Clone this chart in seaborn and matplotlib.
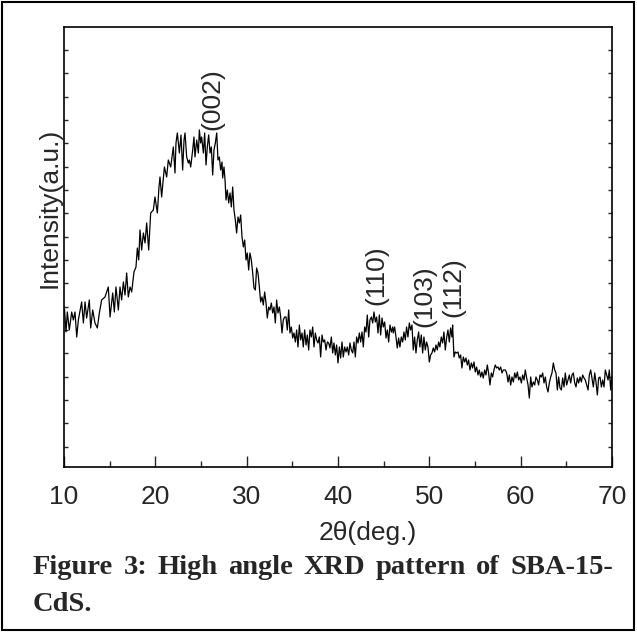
import matplotlib.pyplot as plt
import numpy as np
import pandas as pd
import seaborn as sns
from matplotlib.patches import Rectangle
from matplotlib.ticker import MultipleLocator


#================================================================================================
# Data (arbitrary intensity units)
#================================================================================================

# 10 - 22 deg : rising side of the amorphous hump
rise_2theta = [10.05, 10.22, 10.36, 10.58, 10.84, 11.02, 11.20, 11.39, 11.57, 11.93,
               12.12, 12.30, 12.48, 12.77, 12.92, 13.14, 13.39, 13.65, 13.87, 14.12,
               14.49, 14.85, 15.04, 15.33, 15.51, 15.69, 15.95, 16.13, 16.31, 16.50,
               16.68, 16.86, 17.04, 17.23, 17.41, 17.66, 17.88, 18.03, 18.18, 18.32,
               18.50, 18.69, 18.87, 19.05, 19.27, 19.49, 19.78, 19.96, 20.22, 20.40,
               20.51, 20.69, 20.99, 21.24, 21.42, 21.68, 21.97, 22.15]
rise_counts = [158, 135, 155, 137, 155, 147, 155, 130, 147, 165,
               144, 165, 149, 167, 139, 157, 144, 139, 154, 167,
               170, 180, 150, 174, 155, 180, 157, 180, 167, 185,
               172, 194, 170, 180, 175, 195, 200, 219, 207, 237,
               217, 234, 224, 244, 217, 254, 257, 270, 254, 280,
               290, 270, 300, 290, 307, 300, 320, 294]

# 22 - 34 deg : (002) maximum and falling side
top_2theta = [22.26, 22.41, 22.63, 22.81, 22.99, 23.14, 23.25, 23.43, 23.61, 23.72,
              23.87, 24.09, 24.23, 24.34, 24.53, 24.71, 24.82, 24.96, 25.07, 25.26,
              25.40, 25.55, 25.69, 25.84, 25.99, 26.13, 26.28, 26.42, 26.57, 26.72,
              26.86, 27.01, 27.15, 27.30, 27.37, 27.52, 27.63, 27.74, 27.88, 28.03,
              28.18, 28.32, 28.47, 28.61, 28.76, 28.90, 29.05, 29.20, 29.34, 29.49,
              29.64, 29.78, 29.93, 30.07, 30.22, 30.36, 30.51, 30.66, 30.80, 30.95,
              31.09, 31.24, 31.39, 31.53, 31.68, 31.82, 31.97, 32.12, 32.26, 32.41,
              32.55, 32.70, 32.85, 32.99, 33.14, 33.28, 33.43, 33.58, 33.72, 33.87,
              34.01, 34.16]
top_counts = [324, 334, 314, 332, 297, 327, 334, 310, 304, 307,
              300, 317, 330, 310, 327, 314, 337, 324, 330, 314,
              334, 302, 320, 332, 314, 320, 292, 317, 324, 334,
              307, 310, 297, 305, 289, 300, 287, 267, 277, 264,
              274, 260, 280, 257, 247, 234, 250, 244, 252, 230,
              220, 227, 207, 214, 197, 214, 207, 194, 179, 177,
              199, 194, 180, 165, 170, 162, 175, 164, 149, 160,
              157, 164, 154, 160, 144, 167, 154, 160, 150, 134,
              147, 150]

# 34 - 46 deg : valley and (110)
mid_2theta = [34.31, 34.45, 34.60, 34.74, 34.89, 35.04, 35.18, 35.33, 35.47, 35.62,
              35.77, 35.91, 36.06, 36.20, 36.35, 36.50, 36.64, 36.79, 36.93, 37.08,
              37.23, 37.37, 37.52, 37.66, 37.81, 37.96, 38.10, 38.25, 38.39, 38.54,
              38.69, 38.83, 38.98, 39.12, 39.27, 39.42, 39.56, 39.71, 39.85, 40.00,
              40.15, 40.29, 40.44, 40.58, 40.73, 40.88, 41.02, 41.17, 41.31, 41.46,
              41.61, 41.75, 41.90, 42.04, 42.19, 42.34, 42.48, 42.63, 42.77, 42.92,
              43.07, 43.21, 43.36, 43.50, 43.65, 43.80, 43.94, 44.09, 44.23, 44.38,
              44.53, 44.67, 44.82, 44.96, 45.11, 45.26, 45.40, 45.55, 45.69, 45.84,
              45.99]
mid_counts = [150, 137, 157, 134, 140, 129, 134, 125, 137, 120,
              142, 127, 134, 120, 137, 122, 132, 117, 137, 130,
              140, 120, 134, 127, 124, 130, 110, 132, 125, 127,
              117, 125, 124, 119, 130, 114, 124, 112, 122, 104,
              120, 109, 125, 110, 120, 115, 120, 112, 124, 117,
              114, 125, 110, 130, 124, 134, 125, 135, 120, 140,
              135, 152, 130, 147, 150, 144, 155, 145, 150, 134,
              152, 132, 149, 140, 145, 129, 137, 125, 142, 135,
              140]

# 46 - 58 deg : (103), (112) and drop
hkl_2theta = [46.05, 46.20, 46.35, 46.49, 46.64, 46.78, 46.93, 47.08, 47.22, 47.37,
              47.51, 47.66, 47.81, 47.95, 48.10, 48.24, 48.39, 48.54, 48.68, 48.83,
              48.97, 49.12, 49.27, 49.41, 49.56, 49.70, 49.85, 50.00, 50.14, 50.29,
              50.43, 50.58, 50.73, 50.87, 51.02, 51.16, 51.31, 51.46, 51.60, 51.75,
              51.89, 52.04, 52.19, 52.33, 52.48, 52.55, 52.70, 52.84, 52.99, 53.14,
              53.28, 53.43, 53.57, 53.72, 53.87, 54.01, 54.16, 54.30, 54.45, 54.60,
              54.74, 54.89, 55.03, 55.18, 55.33, 55.47, 55.62, 55.76, 55.91, 56.06,
              56.20, 56.35, 56.49, 56.64, 56.79, 56.93, 57.08, 57.22, 57.37, 57.52,
              57.66, 57.81, 57.96, 58.10]
hkl_counts = [134, 140, 130, 119, 129, 120, 130, 125, 135, 127,
              140, 130, 144, 137, 142, 117, 130, 114, 127, 135,
              120, 132, 114, 130, 117, 125, 120, 105, 112, 114,
              119, 115, 122, 117, 125, 120, 130, 124, 135, 117,
              129, 137, 125, 139, 130, 142, 110, 115, 114, 115,
              109, 112, 99, 110, 105, 109, 102, 107, 97, 104,
              99, 105, 95, 100, 92, 97, 90, 95, 89, 97,
              92, 102, 94, 82, 94, 90, 97, 102, 99, 100,
              97, 100, 94, 97]

# 58 - 70 deg : flat tail
tail_2theta = [58.32, 58.47, 58.62, 58.76, 58.91, 59.05, 59.20, 59.35, 59.49, 59.64,
               59.78, 59.93, 60.08, 60.22, 60.37, 60.51, 60.66, 60.81, 60.95, 61.10,
               61.24, 61.39, 61.54, 61.68, 61.83, 61.97, 62.12, 62.27, 62.41, 62.56,
               62.70, 62.85, 63.00, 63.14, 63.29, 63.43, 63.58, 63.73, 63.87, 64.02,
               64.16, 64.31, 64.46, 64.60, 64.75, 64.89, 65.04, 65.19, 65.33, 65.48,
               65.62, 65.77, 65.92, 66.06, 66.21, 66.35, 66.50, 66.65, 66.79, 66.94,
               67.08, 67.23, 67.38, 67.52, 67.67, 67.81, 67.96, 68.11, 68.25, 68.40,
               68.54, 68.69, 68.84, 68.98, 69.13, 69.27, 69.42, 69.57, 69.71, 69.86,
               69.97]
tail_counts = [97, 94, 85, 92, 82, 90, 85, 94, 89, 95,
               87, 90, 84, 92, 87, 97, 89, 82, 69, 90,
               80, 85, 82, 90, 87, 82, 92, 90, 94, 84,
               90, 80, 75, 84, 90, 94, 104, 97, 94, 77,
               90, 79, 77, 89, 80, 94, 82, 87, 92, 84,
               92, 94, 84, 80, 89, 84, 90, 85, 92, 89,
               87, 82, 77, 92, 97, 89, 80, 94, 85, 72,
               89, 90, 80, 87, 80, 97, 92, 87, 97, 77,
               90]

peak_labels = ['(002)', '(110)', '(103)', '(112)']
peak_2theta = [26.2, 44.2, 49.5, 52.6]
peak_counts = [337, 162, 140, 150]

caption = ['Figure 3: High angle XRD pattern of SBA-15-', 'CdS.']


#================================================================================================
# Plot
#================================================================================================

sns.set_style('ticks')
plt.rcParams['font.family'] = ['Liberation Sans', 'DejaVu Sans']
FS = 19

df = pd.DataFrame({
    'two_theta': rise_2theta + top_2theta + mid_2theta + hkl_2theta + tail_2theta,
    'intensity': rise_counts + top_counts + mid_counts + hkl_counts + tail_counts,
})

fig = plt.figure(figsize=(6.37, 6.32), dpi=100)
ax = fig.add_axes([0.1005, 0.2611, 0.8602, 0.6962])

sns.lineplot(data=df, x='two_theta', y='intensity', ax=ax, color='black',
             linewidth=0.9, estimator=None, sort=False)

# Axis limits and ticks
ax.set_xlim(10, 70)
ax.set_ylim(0, 440)
ax.xaxis.set_major_locator(MultipleLocator(10))
ax.xaxis.set_minor_locator(MultipleLocator(5))
ax.set_yticks(np.linspace(20.3, 417, 18))
ax.tick_params(axis='x', which='major', direction='in', length=8, width=1,
               labelsize=FS, pad=13, top=False)
ax.tick_params(axis='x', which='minor', direction='in', length=4, width=1, top=False)
ax.tick_params(axis='y', direction='in', length=3, width=1, left=True, right=True,
               labelleft=False)
for s in ax.spines.values():
    s.set_visible(True)
    s.set_linewidth(1.2)
    s.set_color('black')

# Axis labels
ax.set_xlabel('2θ(deg.)', fontsize=FS)
ax.xaxis.set_label_coords(0.555, -0.122)
ax.set_ylabel('Intensity(a.u.)', fontsize=FS)
ax.yaxis.label.set(rotation_mode='default', ha='center', va='center')
ax.yaxis.set_label_coords(-0.026, 0.59)

# Peak indices
for lab, x, y in zip(peak_labels, peak_2theta, peak_counts):
    ax.text(x, y, lab, rotation=90, ha='center', va='bottom', fontsize=FS)

# Caption, justified on the first line
cap_font = dict(family='Liberation Serif', weight='bold', fontsize=20.5)
x_left, x_right = 33 / 637, 613 / 637
words = caption[0].split()
renderer = fig.canvas.get_renderer()
texts = [fig.text(0, 1 - 574 / 632, w, va='baseline', **cap_font) for w in words]
widths = [t.get_window_extent(renderer).width / fig.bbox.width for t in texts]
gap = (x_right - x_left - sum(widths)) / (len(words) - 1)
pos = x_left
for t, w in zip(texts, widths):
    t.set_x(pos)
    pos += w + gap
fig.text(x_left, 1 - 611 / 632, caption[1], va='baseline', **cap_font)

# Outer frame
fig.add_artist(Rectangle((0.003, 0.003), 0.992, 0.994, transform=fig.transFigure,
                         fill=False, edgecolor='black', linewidth=1.5))

plt.savefig('out.png', dpi=100)
plt.close()
